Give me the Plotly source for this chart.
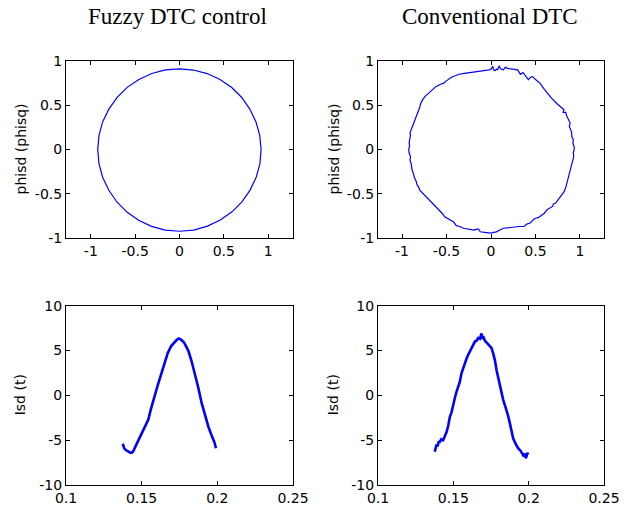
import plotly.graph_objects as go

# ---------------- data ----------------
# Fuzzy DTC: stator flux locus (phisd, phisq)
fuzzy_phid = [0.92, 0.905, 0.862, 0.793, 0.702, 0.589, 0.457, 0.312, 0.158, 0.0,
              -0.159, -0.313, -0.458, -0.590, -0.703, -0.795, -0.866, -0.908, -0.922,
              -0.908, -0.866, -0.797, -0.706, -0.593, -0.461, -0.316, -0.161, 0.0,
              0.161, 0.315, 0.460, 0.592, 0.704, 0.796, 0.865, 0.907, 0.92]
fuzzy_phiq = [0.0, 0.16, 0.313, 0.457, 0.588, 0.700, 0.790, 0.858, 0.898, 0.912,
              0.900, 0.859, 0.792, 0.702, 0.589, 0.459, 0.315, 0.160, 0.0,
              -0.161, -0.316, -0.461, -0.593, -0.707, -0.799, -0.868, -0.910, -0.924,
              -0.910, -0.866, -0.797, -0.704, -0.591, -0.459, -0.314, -0.160, 0.0]

# Conventional DTC: stator flux locus
conv_phid = [-0.02, 0.0, 0.02, 0.03, 0.045, 0.06, 0.075, 0.09, 0.11, 0.14, 0.16, 0.18, 0.22, 0.27,
             0.30, 0.33, 0.36, 0.39, 0.42, 0.45, 0.47, 0.50, 0.55, 0.60, 0.63, 0.68, 0.74, 0.78,
             0.80, 0.82, 0.81, 0.84, 0.85, 0.87, 0.89, 0.88, 0.905, 0.91, 0.925, 0.92, 0.935,
             0.935, 0.925, 0.93, 0.92, 0.91, 0.89, 0.87, 0.855, 0.84, 0.82, 0.80, 0.78, 0.76,
             0.735, 0.72, 0.70, 0.695, 0.66, 0.63, 0.60, 0.57, 0.53, 0.49, 0.44, 0.41, 0.37,
             0.32, 0.25, 0.19, 0.14, 0.10, 0.06, 0.02, -0.01, -0.05, -0.10, -0.12, -0.14,
             -0.16, -0.19, -0.22, -0.26, -0.31, -0.35, -0.39, -0.42, -0.45, -0.49, -0.52,
             -0.55, -0.57, -0.61, -0.65, -0.69, -0.72, -0.75, -0.77, -0.80, -0.81, -0.83,
             -0.84, -0.86, -0.87, -0.88, -0.89, -0.895, -0.91, -0.905, -0.92, -0.925, -0.915,
             -0.92, -0.915, -0.905, -0.91, -0.89, -0.875, -0.86, -0.84, -0.83, -0.81, -0.80,
             -0.79, -0.77, -0.74, -0.70, -0.66, -0.62, -0.56, -0.53, -0.51, -0.47, -0.44,
             -0.41, -0.36, -0.30, -0.20, -0.10, -0.02]
conv_phiq = [0.90, 0.91, 0.94, 0.90, 0.89, 0.91, 0.90, 0.945, 0.91, 0.90, 0.93, 0.92, 0.91, 0.90,
             0.90, 0.85, 0.87, 0.83, 0.79, 0.82, 0.82, 0.79, 0.75, 0.68, 0.64, 0.58, 0.52, 0.48,
             0.47, 0.45, 0.42, 0.42, 0.38, 0.34, 0.30, 0.26, 0.20, 0.14, 0.11, 0.07, 0.03,
             0.0, -0.04, -0.08, -0.12, -0.17, -0.24, -0.31, -0.38, -0.43, -0.48, -0.51, -0.54, -0.56,
             -0.595, -0.61, -0.615, -0.64, -0.66, -0.68, -0.72, -0.74, -0.77, -0.78, -0.83, -0.84, -0.87,
             -0.87, -0.88, -0.88, -0.89, -0.91, -0.93, -0.94, -0.945, -0.94, -0.93, -0.93, -0.90,
             -0.90, -0.91, -0.905, -0.89, -0.89, -0.87, -0.86, -0.82, -0.80, -0.78, -0.76,
             -0.72, -0.70, -0.66, -0.62, -0.58, -0.54, -0.51, -0.49, -0.46, -0.43, -0.40,
             -0.36, -0.32, -0.28, -0.25, -0.22, -0.17, -0.12, -0.08, -0.04, 0.0, 0.04,
             0.08, 0.12, 0.16, 0.19, 0.24, 0.29, 0.33, 0.38, 0.41, 0.45, 0.48,
             0.52, 0.56, 0.60, 0.64, 0.68, 0.71, 0.74, 0.75, 0.77, 0.80, 0.82,
             0.83, 0.85, 0.86, 0.875, 0.885, 0.90]

# Fuzzy DTC: Isd(t)
fuzzy_t = [0.1375, 0.1380, 0.1385, 0.1395, 0.1410, 0.1425, 0.1435, 0.1445, 0.1456, 0.1470,
           0.1489, 0.1515, 0.1544, 0.1560, 0.1577, 0.1604, 0.1628, 0.1650, 0.1672, 0.1695,
           0.1715, 0.1732, 0.1746, 0.1762, 0.1780, 0.1795, 0.1808, 0.1830, 0.1853, 0.1875,
           0.1897, 0.1920, 0.1941, 0.1965, 0.1980, 0.1991]
fuzzy_isd = [-5.4, -5.7, -5.9, -6.1, -6.3, -6.4, -6.4, -6.2, -5.8, -5.3,
             -4.6, -3.7, -2.7, -1.6, -0.5, 1.0, 2.3, 3.6, 4.7, 5.5,
             5.9, 6.2, 6.35, 6.2, 5.9, 5.5, 5.0, 3.8, 2.4, 0.8,
             -0.9, -2.3, -3.5, -4.6, -5.2, -5.9]

# Conventional DTC: Isd(t)
conv_t = [0.1377, 0.1383, 0.1388, 0.1395, 0.1402, 0.1410, 0.1420, 0.1432, 0.1443, 0.1455,
          0.1466, 0.1477, 0.1488, 0.1498, 0.1510, 0.1521, 0.1532, 0.1543, 0.1554, 0.1566,
          0.1577, 0.1588, 0.1598, 0.1609, 0.1626, 0.1643, 0.1654, 0.1665, 0.1676, 0.1687,
          0.1692, 0.1698, 0.1709, 0.1725, 0.1742, 0.1753, 0.1764, 0.1776, 0.1787, 0.1798,
          0.1809, 0.1820, 0.1831, 0.1842, 0.1853, 0.1864, 0.1875, 0.1886, 0.1897, 0.1913,
          0.1930, 0.1947, 0.1964, 0.1975, 0.1980, 0.1986, 0.1991, 0.1997]
conv_isd = [-6.3, -5.8, -5.5, -5.7, -5.2, -5.2, -4.9, -5.0, -4.6, -4.1,
            -3.4, -2.4, -1.9, -1.3, -0.3, 0.4, 0.9, 1.5, 2.45, 3.1,
            3.5, 4.1, 4.5, 4.9, 5.4, 6.0, 6.1, 6.4, 6.3, 6.9,
            6.3, 6.6, 6.1, 5.8, 5.4, 5.3, 4.7, 3.9, 2.8, 1.9,
            1.0, 0.1, -0.5, -1.1, -1.6, -2.3, -3.1, -4.0, -4.8, -5.4,
            -5.9, -6.2, -6.7, -6.5, -7.0, -6.8, -6.4, -6.6]

flux_ticks = [-1, -0.5, 0, 0.5, 1]
flux_ticktext = ["-1", "-0.5", "0", "0.5", "1"]
time_ticks = [0.1, 0.15, 0.2, 0.25]
time_ticktext = ["0.1", "0.15", "0.2", "0.25"]
isd_ticks = [-10, -5, 0, 5, 10]
isd_ticktext = ["-10", "-5", "0", "5", "10"]

titles = ["Fuzzy DTC control", "Conventional DTC"]
flux_ylabel = "phisd (phisq)"
isd_ylabel = "Isd (t)"

# ---------------- figure ----------------
W, H = 632, 510
BLUE = "#0000FF"
tick_font = dict(family="DejaVu Sans", size=14, color="black")

fig = go.Figure()
fig.add_trace(go.Scatter(x=fuzzy_phid, y=fuzzy_phiq, mode="lines",
                         line=dict(color=BLUE, width=1.2), xaxis="x", yaxis="y"))
fig.add_trace(go.Scatter(x=conv_phid, y=conv_phiq, mode="lines",
                         line=dict(color=BLUE, width=1.2), xaxis="x2", yaxis="y2"))
fig.add_trace(go.Scatter(x=fuzzy_t, y=fuzzy_isd, mode="lines",
                         line=dict(color=BLUE, width=2.6), xaxis="x3", yaxis="y3"))
fig.add_trace(go.Scatter(x=conv_t, y=conv_isd, mode="lines",
                         line=dict(color=BLUE, width=2.6), xaxis="x4", yaxis="y4"))

def px_x(p):
    return p / W

def px_y(p):
    return 1 - p / H

left_dom = [px_x(66), px_x(293)]
right_dom = [px_x(378), px_x(604)]
top_dom = [px_y(238), px_y(61)]
bot_dom = [px_y(485), px_y(305.7)]

common = dict(showline=True, linecolor="black", linewidth=1, mirror="allticks",
              ticks="inside", ticklen=4, tickcolor="black", tickwidth=1,
              showgrid=False, zeroline=False, tickfont=tick_font, fixedrange=True,
              automargin=False)

fig.update_layout(
    width=W, height=H,
    margin=dict(l=0, r=0, t=0, b=0, autoexpand=False),
    paper_bgcolor="white", plot_bgcolor="white",
    showlegend=False,
    xaxis=dict(domain=left_dom, anchor="y", range=[-1.28, 1.28],
               tickvals=flux_ticks, ticktext=flux_ticktext, **common),
    yaxis=dict(domain=top_dom, anchor="x", range=[-1, 1],
               tickvals=flux_ticks, ticktext=flux_ticktext, **common),
    xaxis2=dict(domain=right_dom, anchor="y2", range=[-1.27, 1.27],
                tickvals=flux_ticks, ticktext=flux_ticktext, **common),
    yaxis2=dict(domain=top_dom, anchor="x2", range=[-1, 1],
                tickvals=flux_ticks, ticktext=flux_ticktext, **common),
    xaxis3=dict(domain=left_dom, anchor="y3", range=[0.1, 0.25],
                tickvals=time_ticks, ticktext=time_ticktext, **common),
    yaxis3=dict(domain=bot_dom, anchor="x3", range=[-10, 10],
                tickvals=isd_ticks, ticktext=isd_ticktext, **common),
    xaxis4=dict(domain=right_dom, anchor="y4", range=[0.1, 0.25],
                tickvals=time_ticks, ticktext=time_ticktext, **common),
    yaxis4=dict(domain=bot_dom, anchor="x4", range=[-10, 10],
                tickvals=isd_ticks, ticktext=isd_ticktext, **common),
)

title_font = dict(family="Liberation Serif, Times New Roman, serif", size=23, color="black")
label_font = dict(family="DejaVu Sans", size=14, color="black")

annotations = [
    dict(text=titles[0], x=px_x(177), y=px_y(17), font=title_font),
    dict(text=titles[1], x=px_x(490), y=px_y(17), font=title_font),
    dict(text=flux_ylabel, x=px_x(20), y=px_y(149.5), textangle=-90, font=label_font),
    dict(text=flux_ylabel, x=px_x(333), y=px_y(149.5), textangle=-90, font=label_font),
    dict(text=isd_ylabel, x=px_x(20), y=px_y(395.3), textangle=-90, font=label_font),
    dict(text=isd_ylabel, x=px_x(333), y=px_y(395.3), textangle=-90, font=label_font),
]
for a in annotations:
    a.update(xref="paper", yref="paper", xanchor="center", yanchor="middle", showarrow=False)
fig.update_layout(annotations=annotations)

fig.write_html(
    "out.html",
    config=dict(displayModeBar=False),
    post_script="document.body.style.margin='0';document.body.style.overflow='hidden';",
)
